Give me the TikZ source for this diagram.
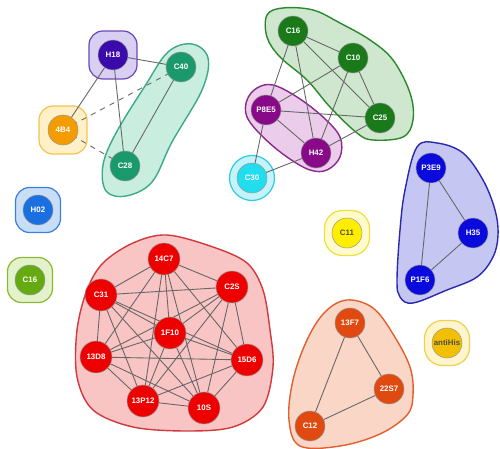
\documentclass[tikz,border=0pt]{standalone}
\usepackage{fontspec}
\setmainfont{Liberation Sans}
\pgfdeclarelayer{back}
\pgfdeclarelayer{mid}
\pgfsetlayers{back,mid,main}
\definecolor{cH}{HTML}{3A0AAA}
\definecolor{cHf}{HTML}{D9CFF2}
\definecolor{cHb}{HTML}{6A4AB8}
\definecolor{cT}{HTML}{1A9A6C}
\definecolor{cTf}{HTML}{C9EEE0}
\definecolor{cTb}{HTML}{3AAA88}
\definecolor{cO}{HTML}{F29C00}
\definecolor{cOf}{HTML}{FFF0C8}
\definecolor{cOb}{HTML}{F2C450}
\definecolor{cG}{HTML}{1A7A1A}
\definecolor{cGf}{HTML}{CFE6CF}
\definecolor{cGb}{HTML}{2A8A2A}
\definecolor{cP}{HTML}{880A88}
\definecolor{cPf}{HTML}{EBCDEB}
\definecolor{cPb}{HTML}{8A2A8A}
\definecolor{cC}{HTML}{22DDEE}
\definecolor{cCf}{HTML}{C4F4FA}
\definecolor{cCb}{HTML}{30CCE0}
\definecolor{cB}{HTML}{0A0ADD}
\definecolor{cBf}{HTML}{C6C6F2}
\definecolor{cBb}{HTML}{2A2AB0}
\definecolor{cL}{HTML}{1A70E0}
\definecolor{cLf}{HTML}{C8DDF6}
\definecolor{cLb}{HTML}{3A80E0}
\definecolor{cV}{HTML}{66AA11}
\definecolor{cVf}{HTML}{E4F2CC}
\definecolor{cVb}{HTML}{88BB33}
\definecolor{cY}{HTML}{FFEE00}
\definecolor{cYf}{HTML}{FFFBCC}
\definecolor{cYb}{HTML}{EEE040}
\definecolor{cA}{HTML}{F2C000}
\definecolor{cAf}{HTML}{FFF5CC}
\definecolor{cAb}{HTML}{EED050}
\definecolor{cR}{HTML}{EE0000}
\definecolor{cRf}{HTML}{F8C4C4}
\definecolor{cRb}{HTML}{D03A3A}
\definecolor{cE}{HTML}{E04A10}
\definecolor{cEf}{HTML}{F9D6C6}
\definecolor{cEb}{HTML}{E06030}
\tikzset{
  vtx/.style={circle, draw=black!40, line width=0.3pt, fill=#1, minimum size=0.6cm, inner sep=0pt,
    text=white, font=\fontsize{4.5}{5}\selectfont\bfseries},
  bigvtx/.style={vtx=#1, minimum size=0.64cm},
  halo/.style 2 args={rounded corners=0.28cm, draw=#2, line width=0.7pt, fill=#1, minimum size=0.9cm, inner sep=0pt},
  hull/.style 2 args={draw=#2, line width=0.8pt, fill=#1},
  edge/.style={draw=black!60, line width=0.5pt},
  dedge/.style={edge, dashed},
}
\begin{document}
\begin{tikzpicture}[x=0.02cm, y=-0.02cm]
\useasboundingbox (0,0) rectangle (500,449);
\begin{pgfonlayer}{back}
% hulls
\draw[hull={cTf}{cTb}] plot[smooth cycle, tension=0.6] coordinates {(168,52) (192,44) (208,58) (202,90) (172,142) (152,182) (126,196) (106,191) (103,165) (116,133) (145,86)};
\draw[hull={cGf}{cGb}] plot[smooth cycle, tension=0.6] coordinates {(283,8) (313,10) (340,23) (370,40) (393,60) (410,93) (413,120) (403,137) (373,140) (357,133) (330,107) (307,80) (280,57) (267,37) (267,15)};
\draw[hull={cPf}{cPb}] plot[smooth cycle, tension=0.6] coordinates {(257,88) (273,85) (297,97) (323,117) (340,137) (340,157) (327,170) (310,170) (287,157) (263,137) (247,117) (247,100)};
\draw[hull={cBf}{cBb}] plot[smooth cycle, tension=0.6] coordinates {(417,147) (437,143) (463,153) (483,180) (495,210) (498,235) (493,257) (477,277) (447,290) (413,303) (400,297) (397,280) (400,230) (405,190)};
\draw[hull={cEf}{cEb}] plot[smooth cycle, tension=0.6] coordinates {(347,300) (373,308) (393,334) (410,367) (413,395) (407,415) (380,434) (340,446) (300,446) (289,420) (293,380) (307,340) (325,312)};
\draw[hull={cRf}{cRb}] plot[smooth cycle, tension=0.55] coordinates {(133,243) (167,235) (213,247) (247,263) (263,290) (270,330) (273,367) (263,407) (233,427) (187,431) (133,427) (93,410) (77,377) (77,330) (87,290) (103,263)};
% halos
\node[halo={cHf}{cHb}, minimum size=0.96cm] (hH18) at (113,55) {};
\node[halo={cOf}{cOb}, minimum size=0.96cm] (h4B4) at (63,130) {};
\node[halo={cCf}{cCb}, rounded corners=0.45cm] (hC30) at (252,178) {};
\node[halo={cLf}{cLb}] (hH02) at (38,210) {};
\node[halo={cVf}{cVb}] (hC16b) at (30,280) {};
\node[halo={cYf}{cYb}, rounded corners=0.36cm] (hC11) at (347,233) {};
\node[halo={cAf}{cAb}, rounded corners=0.36cm] (hanti) at (447,343) {};
\end{pgfonlayer}
% nodes
\node[vtx=cH] (H18) at (113,55) {H18};
\node[vtx=cT] (C40) at (181,67) {C40};
\node[vtx=cO] (B4) at (63,130) {4B4};
\node[vtx=cT] (C28) at (125,166) {C28};
\node[vtx=cG] (C16) at (293,31) {C16};
\node[vtx=cG] (C10) at (353,58) {C10};
\node[vtx=cG] (C25) at (380,118) {C25};
\node[vtx=cP] (P8E5) at (266,110) {P8E5};
\node[vtx=cP] (H42) at (316,153) {H42};
\node[vtx=cC] (C30) at (252,178) {C30};
\node[vtx=cB] (P3E9) at (431,168) {P3E9};
\node[vtx=cB] (H35) at (473,233) {H35};
\node[vtx=cB] (P1F6) at (420,280) {P1F6};
\node[vtx=cY, text=black!70] (C11) at (347,233) {C11};
\node[vtx=cL] (H02) at (38,210) {H02};
\node[vtx=cV] (C16b) at (30,280) {C16};
\node[vtx=cA, text=black!70] (anti) at (447,343) {antiHis};
\node[vtx=cE] (F7) at (350,323) {13F7};
\node[vtx=cE] (S7) at (389,389) {22S7};
\node[vtx=cE] (C12) at (310,426) {C12};
\node[bigvtx=cR] (C7) at (164,259) {14C7};
\node[bigvtx=cR] (C2S) at (232,287) {C2S};
\node[bigvtx=cR] (C31) at (101,295) {C31};
\node[bigvtx=cR] (F10) at (170,333) {1F10};
\node[bigvtx=cR] (D8) at (96,357) {13D8};
\node[bigvtx=cR] (D6) at (247,360) {15D6};
\node[bigvtx=cR] (P12) at (143,401) {13P12};
\node[bigvtx=cR] (S10) at (204,408) {10S};
% edges
\begin{pgfonlayer}{mid}
\foreach \a/\b in {H18/C40,H18/B4,H18/C28,C40/C28,
  C16/C10,C16/C25,C16/P8E5,C16/H42,C10/C25,C10/P8E5,C10/H42,C25/P8E5,C25/H42,P8E5/H42,P8E5/C30,H42/C30,
  P3E9/H35,P3E9/P1F6,H35/P1F6,F7/S7,F7/C12,S7/C12}
  {\path[edge] (\a.center) -- (\b.center);}
\path[dedge] (B4.center) -- (C40.center);
\path[dedge] (B4.center) -- (C28.center);
\foreach \a/\b in {C7/C2S,C7/C31,C7/F10,C7/D8,C7/D6,C7/P12,C7/S10,
  C2S/C31,C2S/F10,C2S/D8,C2S/D6,C2S/P12,C2S/S10,
  C31/F10,C31/D8,C31/D6,C31/P12,C31/S10,
  F10/D8,F10/D6,F10/P12,F10/S10,
  D8/D6,D8/P12,D8/S10,
  D6/P12,D6/S10,P12/S10}
  {\path[edge] (\a.center) -- (\b.center);}
\end{pgfonlayer}
\end{tikzpicture}
\end{document}
